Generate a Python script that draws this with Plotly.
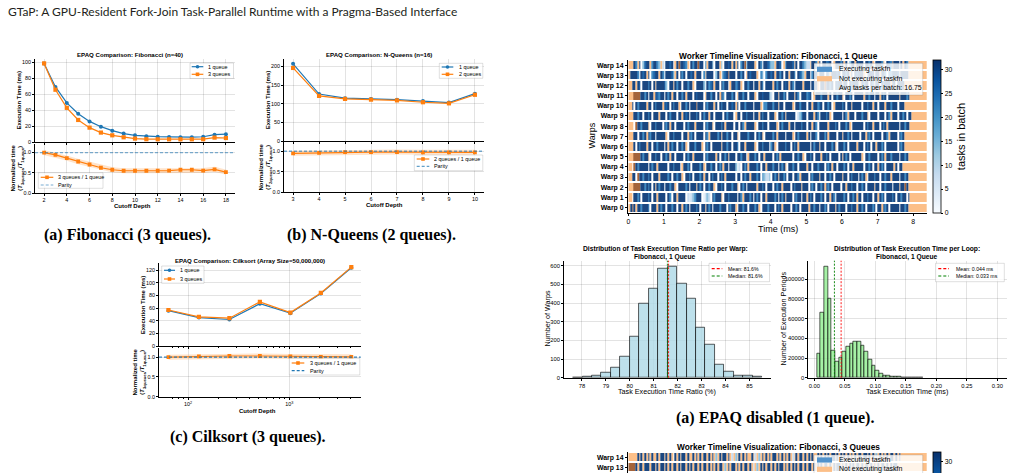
import plotly.graph_objects as go

W, H = 1013, 473
FONT = "Liberation Sans"
SERIF = "Liberation Serif"
BLUE = "#1f77b4"
ORNG = "#ff7f0e"
NOT_EXEC = "#fcbf88"
NOT_EXEC_DARK = "#a4643b"
EXEC_PATCH = "#5293cc"

# ------------------------------------------------------------------ data
header = "GTaP: A GPU-Resident Fork-Join Task-Parallel Runtime with a Pragma-Based Interface"

fib_depth = [2, 3, 4, 5, 6, 7, 8, 9, 10, 11, 12, 13, 14, 15, 16, 17, 18]
fib_1q = [98.5, 69, 49, 35.5, 25.8, 19.2, 14.2, 10.5, 8.4, 7.1, 6.7, 6.3, 6.0, 6.0, 6.6, 9.2, 9.8]
fib_3q = [98.5, 65.5, 42.8, 27.6, 18.0, 11.8, 8.4, 5.9, 4.3, 3.5, 3.4, 3.4, 3.4, 3.4, 3.5, 5.5, 5.0]
fib_ratio = [1.0, 0.945, 0.865, 0.78, 0.705, 0.625, 0.575, 0.55, 0.55, 0.55, 0.55, 0.555, 0.575, 0.575, 0.555, 0.585, 0.515]

nq_depth = [3, 4, 5, 6, 7, 8, 9, 10]
nq_1q = [207, 126, 115, 113, 111, 107, 103, 127]
nq_2q = [196, 121, 113, 111, 109, 104, 101, 124]
nq_ratio = [0.95, 0.96, 0.98, 0.98, 0.98, 0.975, 0.975, 0.975]

cs_cutoff = [64, 128, 256, 512, 1024, 2048, 4096]
cs_1q = [56, 45, 42, 67, 52, 83, 124]
cs_3q = [57, 46, 44, 70, 53, 84, 125]
cs_ratio = [1.0, 1.02, 1.03, 1.03, 1.02, 1.01, 1.01]

parity = 1.0

# histogram of per-warp execution-time ratio (bins of equal width)
h1_start, h1_width = 77.63, 0.395
h1_counts = [2, 4, 11, 29, 55, 114, 220, 396, 479, 584, 596, 505, 423, 266, 177, 71, 34, 13, 10, 4]
h1_mean, h1_median = 81.62, 81.57

# histogram of per-loop task execution time (ms)
h2_start, h2_width = 0.0044, 0.0060
h2_counts = [24400, 66400, 113200, 80700, 27800, 15900, 20000, 26800, 31500, 34900,
             36600, 36600, 33000, 26400, 18300, 11900, 6800, 4100, 2400, 1700,
             1300, 1000, 700, 500, 400, 300, 200, 150, 100]
h2_mean, h2_median = 0.044, 0.033

# tick labels
fib_yticks = [0, 20, 40, 60, 80, 100]
fib_xticks = [2, 4, 6, 8, 10, 12, 14, 16, 18]
ratio_yticks = [0.0, 0.5, 1.0]
nq_yticks = [0, 50, 100, 150, 200]
cs_yticks = [0, 20, 40, 60, 80, 100, 120]
cs_xticks = [100, 1000]
cs_xticktext = ["10<sup>2</sup>", "10<sup>3</sup>"]
cs_minor = [70, 80, 90, 200, 300, 400, 500, 600, 700, 800, 900, 2000, 3000, 4000]
tl_xticks = [0, 1, 2, 3, 4, 5, 6, 7, 8]
cbar_ticks = [0, 5, 10, 15, 20, 25, 30]
h1_xticks = [78, 79, 80, 81, 82, 83, 84, 85]
h1_yticks = [0, 100, 200, 300, 400, 500, 600]
h2_xticks = [0.0, 0.05, 0.10, 0.15, 0.20, 0.25, 0.30]
h2_yticks = [0, 20000, 40000, 60000, 80000, 100000]

# worker timelines: one character per 0.05 ms slot
#   'o' not executing, 'b' not executing (overlap, darker), '.' gap,
#   digits -> tasks in batch level
tl_dt = 0.05
tl_tmax = 8.4
tl_levels = {"1": 3, "3": 8, "5": 14, "6": 18, "7": 22, "8": 27, "9": 31}
tl1_avg_tasks = 16.75
tl1_rows = {
    14: "ooo97o9.5899o79975o3.9989.o9b9987o.9799b9" "9.7o995.99o5.9989o9o9.79b59999o.97.99875" "5o998.o79998o9.997533o997o9.99789.o99979" "o9.599o9899.9979o.9997o.987b999.9o97oooo",
    13: "o99997.989o9.7899o97.99985o9.979.9989o99" "9.7o9999.59o.789b999.9979.o98999o.75.799" "89o9979.99o997.9875o99.799o999.97o99989." "9979o9.98999o.7999.99o997.779998o9999ooo",
    12: "oo99o98.99979.9o999985.99o9799.99799o.99" "995.9789o99.9799.o99789o.99799.99o97.999" "9o9799.989o97.9999o999.989o.99b9979.9899" "o99.979995o9799.97o99.97999o99.9999ooooo",
    11: "ooobbbb9979.99o98799.979o99.9979o999.989" "99.o99799.9o97.99979.o99799.999o.9989995" "3.99o9979.999o97.999789.o9997999o9.99799" "o.9979.99999o99799.99o979.999999o99979oo",
    10: "oo9.979999o99.97999o989.9799o.9979.999b9" "99.97999o9.9799.9989o9.9979999.999o.7799" "9799o99.9999o.997999.99o99789.9979.o999" "979.99o99999.99799o99.999o997999.999oooo",
    9:  "ooo99799.9979.999o999.97999.99o989.99979" ".9799o99.9999.97999.o99.997999.99o9799.9" "99o.9979o99999.35799.999o97.99979o.99999" ".97o999.999799o.9999.999.97o999.9979.99o",
    8:  "ooo.b997999o.997999.979o99.9999.97999o99" "99.9799o.99979o9999.99.97o99999o.99799.9" "999o.97999o99.999799.99o97.99999o99979.9" "9979o.999999.9799o999.979o999999.99799oo",
    7:  "ooo99.9979o9799.99999o.9979999.99o979.99" "99.97o999979o99799.99o.99997999.979o.999" "979o9999.999o.979999o9.997.99979o9999.99" "o9979.9999.99o979.9999.997o9999.979ooooo",
    6:  "ooo9.97999o99.997999.9o9799.9979o.999799" "9o.979.99999o99799.997.99o99999o.997999." "79o.9999799.979o999999.9799o99.99979o.99" "979.9999o999.979.99o9979.999999.979ooooo",
    5:  "ooobbbb9799o.99799.9979o99.9999.9799o999" "99.979999o9.9979o999.99799.o99979.99o999" "9.979o999999.99799o.9979.999o9979.9999.9" "o979.999999o.9979999.979o9979999.9979ooo",
    4:  "oo.b9799999.9799o99999.997999.o9979.9999" "79o.99799.979o99.9995.3.979o999979.99o99" "9799.979o.99799.9999o99.997999.979o99.99" "979.99o99999.9979.99o979.9999o9.99oooooo",
    3:  "oo99.b9979979.999o999979.99799o.9979.999" "79o99.9799.979o99999.99.9799o99979.75335" ".979o9979.99.997o9999.97999o99.9979.9999" "o99.97999.979o.999799.99799o9999.9979ooo",
    2:  "ooobbbb997979.9o9799.99799o.999979.999o9" "79.99799o.9979.999799o.979.99999o9979.99" "9.9799o9999.97999o999.979.9979o979.9999." "99o99799.9979.9999o99.997999.999o99b9ooo",
    1:  "oo.9979.99979.99o9999.97.99o9999.3135799" "9.1353.97999o.9979999.97o99979.979.99o99" "9979.979o999.9799.99o979.99979.99o97.999" "979.9979o99.99799.99o979.99979.99799.9oo",
    0:  "o9b9o9979997.999o9799.99799.99o979.99979" ".99o979.9997999.9799o.99799.99979o.99979" "99.979o9999.9979.9999o99799.9979.999o979" "99.99799o9979.99979.99o979.99999.9979ooo",
}
tl3_rows = {
    14: "ooooo9o9o9o9o9oo9o99o9o9o.9o9o99o9oo9o9o" "9o99o9o9o5o9o99o9o3o5o9o9o9oo9o3o5o9o9o9" "o99o9o9o9o9o3o9o99o9o9o9oo9o9o9o9o99o9o9" "o9o9o9o9o99o99o9o9o5o9o9o9o99o9o9ooooooo",
    13: "bbbb9o99o999o99o9o99o9o9o99o9o99o9o9o99o" "9o99o9o9o9o99o5o9o99o9o9o99o9o3o5o9o9o99" "o9o9o99o9o9o9o9o99o9o99o9o9o9o99o9o9o99o" "9o9o9o9o99o9o99o9o9o9o99o9o9o99ooooooooo",
}

# ------------------------------------------------------------------ helpers
fig = go.Figure()
shapes, annos, axes = [], [], {}


def pxx(x):
    return x / W


def pxy(y):
    return 1 - y / H


def text(x, y, s, size, bold=False, xanchor="center", yanchor="middle", angle=0,
         family=FONT, color="black"):
    annos.append(dict(x=pxx(x), y=pxy(y), xref="paper", yref="paper",
                      text=f"<b>{s}</b>" if bold else s, showarrow=False,
                      xanchor=xanchor, yanchor=yanchor, textangle=angle,
                      font=dict(size=size, family=family, color=color)))


def base_axis(**kw):
    d = dict(showline=True, linecolor="black", linewidth=0.8, ticks="outside",
             ticklen=2, tickwidth=0.7, tickcolor="black", showgrid=True,
             gridcolor="rgba(0,0,0,0.11)", gridwidth=0.7, zeroline=False,
             tickfont=dict(family=FONT, size=5.4, color="black"), layer="above traces")
    d.update(kw)
    return d


def make_axes(i, box, xr, yr, xkw=None, ykw=None):
    l, r, t, b = box
    s = "" if i == 1 else str(i)
    xa = base_axis(domain=[l / W, r / W], range=xr, anchor="y" + s)
    ya = base_axis(domain=[max(0, 1 - b / H), 1 - t / H], range=yr, anchor="x" + s)
    xa.update(xkw or {})
    ya.update(ykw or {})
    axes["xaxis" + s] = xa
    axes["yaxis" + s] = ya
    return "x" + s, "y" + s


def legend(bx, sym, tx, rows, size):
    x0, y0, x1, y1 = bx
    shapes.append(dict(type="rect", xref="paper", yref="paper", x0=pxx(x0), x1=pxx(x1),
                       y0=pxy(y1), y1=pxy(y0), fillcolor="rgba(255,255,255,0.82)",
                       line=dict(color="rgba(0,0,0,0.18)", width=0.7)))
    s0, s1 = sym
    for y, label, kind, color, extra in rows:
        if kind in ("line", "dash"):
            shapes.append(dict(type="line", xref="paper", yref="paper", x0=pxx(s0), x1=pxx(s1),
                               y0=pxy(y), y1=pxy(y),
                               line=dict(color=color, width=1.2,
                                         dash="solid" if kind == "line" else "3px,2px")))
            if extra:
                c, r = (s0 + s1) / 2, 1.8
                shapes.append(dict(type="circle" if extra == "circle" else "rect",
                                   xref="paper", yref="paper", x0=pxx(c - r), x1=pxx(c + r),
                                   y0=pxy(y + r), y1=pxy(y - r), fillcolor=color,
                                   line=dict(width=0)))
        elif kind == "patch":
            shapes.append(dict(type="rect", xref="paper", yref="paper", x0=pxx(s0), x1=pxx(s1),
                               y0=pxy(y + 2.6), y1=pxy(y - 2.6), fillcolor=color,
                               line=dict(width=0)))
        text(tx, y, label, size, xanchor="left")


def hline(xa, ya, yv, color):
    shapes.append(dict(type="line", xref=f"{xa} domain", yref=ya, x0=0, x1=1, y0=yv, y1=yv,
                       line=dict(color=color, width=1.3, dash="3px,2px")))


def vline(xa, ya, xv, color):
    shapes.append(dict(type="line", xref=xa, yref=f"{ya} domain", x0=xv, x1=xv, y0=0, y1=1,
                       line=dict(color=color, width=0.9, dash="2px,1.5px")))


def series(xs, ys, xa, ya, color, symbol, size=4):
    fig.add_trace(go.Scatter(x=xs, y=ys, mode="lines+markers", xaxis=xa, yaxis=ya,
                             line=dict(color=color, width=1.2),
                             marker=dict(symbol=symbol, size=size, color=color)))


def ratio(xs, ys, xa, ya):
    fig.add_trace(go.Scatter(x=xs, y=ys, mode="lines", xaxis=xa, yaxis=ya,
                             line=dict(color="rgba(255,127,14,0.22)", width=5)))
    series(xs, ys, xa, ya, ORNG, "square", 3.8)


hide = dict(showticklabels=False)
LBL = 6.0   # axis label size of the EPAQ panels
LEG = 5.4   # legend text size of the EPAQ panels

# ------------------------------------------------------------------ (a) Fibonacci
xa, ya = make_axes(1, (35, 235, 59, 142), [1.2, 18.8], [0, 104],
                   dict(tickvals=fib_xticks, **hide), dict(tickvals=fib_yticks))
series(fib_depth, fib_1q, xa, ya, BLUE, "circle")
series(fib_depth, fib_3q, xa, ya, ORNG, "square", 4.2)
xb, yb = make_axes(2, (35, 235, 143.7, 193), [1.2, 18.8], [0, 1.22],
                   dict(tickvals=fib_xticks), dict(tickvals=ratio_yticks, tickformat=".1f"))
ratio(fib_depth, fib_ratio, xb, yb)
hline(xb, yb, parity, "rgba(31,119,180,0.55)")
text(130, 55, "EPAQ Comparison: Fibonacci (n=40)", 6.1, bold=True)
text(19, 100.5, "Execution Time (ms)", LBL, bold=True, angle=-90)
text(16.5, 168, "Normalized time<br>(<i>T</i><sub>3queues</sub>/<i>T</i><sub>1queue</sub>)", LBL, bold=True, angle=-90)
text(132, 206, "Cutoff Depth", LBL, bold=True)
legend((190, 63, 233.5, 78.5), (191.7, 203.3), 205.5,
       [(66.7, "1 queue", "line", BLUE, "circle"), (74.3, "3 queues", "line", ORNG, "square")], LEG)
legend((38.3, 172.7, 103, 188.3), (40.7, 53.3), 56,
       [(177.3, "3 queues / 1 queue", "line", ORNG, "square"),
        (185, "Parity", "dash", "rgba(31,119,180,0.6)", None)], LEG)
text(128, 235, "(a) Fibonacci (3 queues).", 16, bold=True, family=SERIF)

# ------------------------------------------------------------------ (b) N-Queens
xa, ya = make_axes(3, (284, 484, 59, 141), [2.65, 10.35], [0, 220],
                   dict(tickvals=nq_depth, **hide), dict(tickvals=nq_yticks))
series(nq_depth, nq_1q, xa, ya, BLUE, "circle")
series(nq_depth, nq_2q, xa, ya, ORNG, "square", 4.2)
xb, yb = make_axes(4, (284, 484, 142.3, 192), [2.65, 10.35], [0, 1.22],
                   dict(tickvals=nq_depth), dict(tickvals=ratio_yticks, tickformat=".1f"))
ratio(nq_depth, nq_ratio, xb, yb)
hline(xb, yb, parity, "rgba(31,119,180,0.6)")
text(379, 55, "EPAQ Comparison: N-Queens (n=16)", 6.1, bold=True)
text(268.3, 100, "Execution Time (ms)", LBL, bold=True, angle=-90)
text(264.5, 167, "Normalized time<br>(<i>T</i><sub>2queues</sub>/<i>T</i><sub>1queue</sub>)", LBL, bold=True, angle=-90)
text(384, 205.5, "Cutoff Depth", LBL, bold=True)
legend((439.3, 63.3, 482.8, 78.3), (441.7, 453.3), 457.3,
       [(67, "1 queue", "line", BLUE, "circle"), (74.3, "2 queues", "line", ORNG, "square")], LEG)
legend((414.3, 155, 482.8, 170.7), (416.7, 429.3), 432.3,
       [(159, "2 queues / 1 queue", "line", ORNG, "square"),
        (166.3, "Parity", "dash", "rgba(31,119,180,0.7)", None)], LEG)
text(371, 235, "(b) N-Queens (2 queues).", 16, bold=True, family=SERIF)

# ------------------------------------------------------------------ (c) Cilksort
minor = dict(tickmode="array", tickvals=cs_minor, ticks="outside", ticklen=1.3,
             tickcolor="black", showgrid=False)
xa, ya = make_axes(5, (159, 360.7, 263.3, 346), [1.713, 3.705], [0, 131],
                   dict(type="log", tickvals=cs_xticks, minor=minor, **hide), dict(tickvals=cs_yticks))
series(cs_cutoff, cs_1q, xa, ya, BLUE, "circle")
series(cs_cutoff, cs_3q, xa, ya, ORNG, "square", 4.2)
xb, yb = make_axes(6, (159, 360.7, 347.7, 396.7), [1.713, 3.705], [0, 1.24],
                   dict(type="log", tickvals=cs_xticks, ticktext=cs_xticktext, minor=minor),
                   dict(tickvals=ratio_yticks, tickformat=".1f"))
ratio(cs_cutoff, cs_ratio, xb, yb)
hline(xb, yb, parity, "rgba(31,119,180,0.9)")
text(250, 260, "EPAQ Comparison: Cilksort (Array Size=50,000,000)", 6.1, bold=True)
text(143.3, 305, "Execution Time (ms)", LBL, bold=True, angle=-90)
text(138.5, 372, "Normalized time<br>(<i>T</i><sub>3queues</sub>/<i>T</i><sub>1queue</sub>)", LBL, bold=True, angle=-90)
text(257, 410.5, "Cutoff Depth", LBL, bold=True)
legend((161.7, 266, 204, 283.3), (164, 175), 178.3,
       [(270.3, "1 queue", "line", BLUE, "circle"), (279, "3 queues", "line", ORNG, "square")], LEG)
legend((289.3, 358.3, 359.8, 375), (291.7, 304.3), 307.7,
       [(363, "3 queues / 1 queue", "line", ORNG, "square"),
        (370.7, "Parity", "dash", BLUE, None)], LEG)
text(248, 437, "(c) Cilksort (3 queues).", 16, bold=True, family=SERIF)


# ------------------------------------------------------------------ timelines
def decode(rows):
    ncol = round(tl_tmax / tl_dt)
    ys, zb, zo = [], [], []
    for w in sorted(rows):
        s = rows[w].ljust(ncol, "o")[:ncol]
        b, o = [], []
        for ch in s:
            if ch in tl_levels:
                b.append(tl_levels[ch]); o.append(None)
            elif ch == "o":
                b.append(None); o.append(0)
            elif ch == "b":
                b.append(None); o.append(1)
            else:
                b.append(None); o.append(None)
        ys.append(w); zb.append(b); zo.append(o)
    xs = [(i + 0.5) * tl_dt for i in range(ncol)]
    return xs, ys, zb, zo


def timeline(rows, xa, ya, cb_top, cb_title):
    xs, ys, zb, zo = decode(rows)
    fig.add_trace(go.Heatmap(x=xs, y=ys, z=zo, xaxis=xa, yaxis=ya, zmin=0, zmax=1,
                             colorscale=[[0, NOT_EXEC], [0.5, NOT_EXEC], [0.5, NOT_EXEC_DARK], [1, NOT_EXEC_DARK]],
                             showscale=False, ygap=2, hoverinfo="skip"))
    cb = dict(x=pxx(932.5), xanchor="left", y=pxy(cb_top), yanchor="top",
              len=152.7, lenmode="pixels", thickness=8, thicknessmode="pixels", xpad=0, ypad=0,
              outlinewidth=0.8, outlinecolor="black", tickmode="array", tickvals=cbar_ticks,
              ticks="outside", ticklen=2.5, tickcolor="black",
              tickfont=dict(family=FONT, size=6.8, color="black"))
    if cb_title:
        cb["title"] = dict(text=cb_title, side="right", font=dict(family=FONT, size=11, color="black"))
    fig.add_trace(go.Heatmap(x=xs, y=ys, z=zb, xaxis=xa, yaxis=ya, zmin=0, zmax=32,
                             colorscale="Blues", opacity=0.92, ygap=2, hoverinfo="skip",
                             colorbar=cb))


tl_ytick = dict(tickfont=dict(family=FONT, size=6.9, color="black", weight="bold"), showgrid=False,
                ticklen=2.5)
ys1 = sorted(tl1_rows)
xa, ya = make_axes(7, (628.3, 926.7, 60, 212.7), [0, 8.38], [-0.5, 14.5],
                   dict(tickvals=tl_xticks, showgrid=False, ticklen=2.5,
                        tickfont=dict(family=FONT, size=6.9, color="black")),
                   dict(tickvals=ys1, ticktext=[f"Warp {w}" for w in ys1], **tl_ytick))
timeline(tl1_rows, xa, ya, 60, "tasks in batch")
text(778, 55.5, "Worker Timeline Visualization: Fibonacci, 1 Queue", 8.3, bold=True)
text(591.5, 136, "Warps", 9, angle=-90)
text(778, 228.5, "Time (ms)", 9)
legend((814, 63.3, 922.7, 95), (817, 832), 836.7,
       [(69.3, "Executing taskfn", "patch", EXEC_PATCH, None),
        (78.7, "Not executing taskfn", "patch", NOT_EXEC, None),
        (88.3, f"Avg tasks per batch: {tl1_avg_tasks:.2f}", "none", None, None)], 7)
text(775, 418, "(a) EPAQ disabled (1 queue).", 16, bold=True, family=SERIF)

ys3 = sorted(tl3_rows)
xa, ya = make_axes(10, (628.3, 926.7, 452, 473), [0, 8.38], [12.44, 14.5],
                   dict(showline=False, ticks="", showticklabels=False, showgrid=False),
                   dict(tickvals=ys3, ticktext=[f"Warp {w}" for w in ys3], **tl_ytick))
timeline(tl3_rows, xa, ya, 452, None)
text(778, 447.3, "Worker Timeline Visualization: Fibonacci, 3 Queues", 8.3, bold=True)
legend((814, 455, 922.7, 490), (817, 832), 836.7,
       [(460, "Executing taskfn", "patch", EXEC_PATCH, None),
        (469.3, "Not executing taskfn", "patch", NOT_EXEC, None)], 7)

# ------------------------------------------------------------------ histograms
HT = dict(family=FONT, size=5.8, color="black")
HL = 7.2
xa, ya = make_axes(8, (564, 771, 260.7, 377.7), [77.25, 85.9], [0, 627],
                   dict(tickvals=h1_xticks, tickfont=HT), dict(tickvals=h1_yticks, tickfont=HT))
fig.add_trace(go.Bar(x=[h1_start + h1_width * (i + 0.5) for i in range(len(h1_counts))],
                     y=h1_counts, width=h1_width, xaxis=xa, yaxis=ya,
                     marker=dict(color="rgba(173,216,230,0.8)",
                                 line=dict(color="rgba(0,0,0,0.7)", width=0.9))))
vline(xa, ya, h1_mean, "red")
vline(xa, ya, h1_median, "green")
text(665, 249.3, "Distribution of Task Execution Time Ratio per Warp:", 6.7, bold=True)
text(665, 256.9, "Fibonacci, 1 Queue", 6.7, bold=True)
text(667, 391, "Task Execution Time Ratio (%)", HL)
text(546.5, 319, "Number of Warps", HL, angle=-90)
legend((709, 263.3, 769.5, 281.7), (711.7, 722.3), 725.5,
       [(268.7, f"Mean: {h1_mean:.1f}%", "dash", "red", None),
        (276, f"Median: {h1_median:.1f}%", "dash", "green", None)], 5.2)

xa, ya = make_axes(9, (808.3, 1006.7, 260.7, 377.7), [-0.0098, 0.3154], [0, 118900],
                   dict(tickvals=h2_xticks, tickformat=".2f", tickfont=HT),
                   dict(tickvals=h2_yticks, tickformat="d", tickfont=HT))
fig.add_trace(go.Bar(x=[h2_start + h2_width * (i + 0.5) for i in range(len(h2_counts))],
                     y=h2_counts, width=h2_width, xaxis=xa, yaxis=ya,
                     marker=dict(color="rgba(144,238,144,0.8)",
                                 line=dict(color="rgba(0,0,0,0.7)", width=0.9))))
vline(xa, ya, h2_mean, "red")
vline(xa, ya, h2_median, "green")
text(907, 249.3, "Distribution of Task Execution Time per Loop:", 6.7, bold=True)
text(907, 256.9, "Fibonacci, 1 Queue", 6.7, bold=True)
text(907, 391, "Task Execution Time (ms)", HL)
text(782.5, 319, "Number of Execution Periods", HL, angle=-90)
legend((935.5, 263.3, 1004.3, 281.7), (938.3, 949), 953.5,
       [(268.7, f"Mean: {h2_mean:.3f} ms", "dash", "red", None),
        (276, f"Median: {h2_median:.3f} ms", "dash", "green", None)], 5.2)

# ------------------------------------------------------------------ header
text(6, 12, header, 12, xanchor="left", family="Lato", color="#231f20")

fig.update_layout(width=W, height=H, margin=dict(l=0, r=0, t=0, b=0, autoexpand=False),
                  paper_bgcolor="white", plot_bgcolor="white", showlegend=False,
                  hovermode=False, shapes=shapes, annotations=annos, bargap=0, **axes)
fig.write_html("out.html")
